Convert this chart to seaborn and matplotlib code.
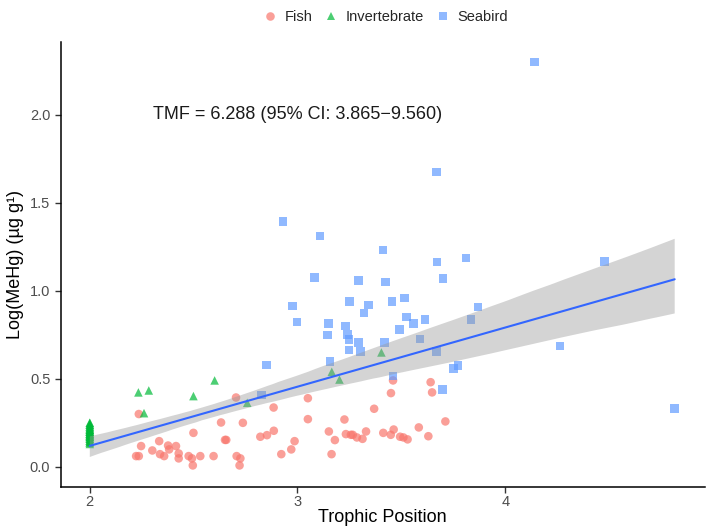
import pandas as pd
import matplotlib
matplotlib.use("Agg")
import matplotlib.pyplot as plt
import seaborn as sns

# values
fish_tp = [2.236, 2.704, 2.632, 2.737, 2.499, 2.651, 2.657, 2.334, 2.247, 2.377,
           2.415, 2.301, 2.382, 2.338, 2.358, 2.428, 2.428, 2.476, 2.492, 2.532,
           2.596, 2.223, 2.236, 2.496, 2.707, 2.725, 2.721, 2.885, 3.050, 3.050,
           2.886, 2.821, 2.853, 2.986, 2.970, 2.922, 3.151, 3.180, 3.164, 3.226,
           3.233, 3.257, 3.266, 3.286, 3.313, 3.330, 3.369, 3.450, 3.460, 3.413,
           3.449, 3.463, 3.494, 3.510, 3.530, 3.641, 3.648, 3.712, 3.584, 3.630]
fish_hg = [0.300, 0.394, 0.252, 0.250, 0.193, 0.153, 0.153, 0.146, 0.118, 0.121,
           0.118, 0.093, 0.099, 0.072, 0.061, 0.076, 0.048, 0.061, 0.048, 0.061,
           0.061, 0.061, 0.061, 0.008, 0.061, 0.048, 0.008, 0.337, 0.390, 0.271,
           0.205, 0.171, 0.180, 0.146, 0.099, 0.072, 0.201, 0.152, 0.072, 0.269,
           0.186, 0.182, 0.182, 0.167, 0.159, 0.201, 0.330, 0.419, 0.491, 0.193,
           0.182, 0.212, 0.171, 0.167, 0.156, 0.481, 0.423, 0.258, 0.224, 0.174]

# the stack at TP = 2 is dense, count is a guess
invert_tp = [2.0] * 30 + [2.234, 2.284, 2.601, 2.499, 2.261, 2.758, 3.165, 3.202, 3.404]
invert_hg = [0.13, 0.14, 0.14, 0.15, 0.15, 0.16, 0.16, 0.17, 0.17, 0.17,
             0.18, 0.18, 0.18, 0.19, 0.19, 0.19, 0.20, 0.20, 0.20, 0.21,
             0.21, 0.21, 0.22, 0.22, 0.23, 0.23, 0.24, 0.24, 0.25, 0.25,
             0.423, 0.434, 0.491, 0.402, 0.305, 0.364, 0.540, 0.496, 0.650]

bird_tp = [2.930, 3.109, 3.412, 3.672, 3.812, 3.083, 3.295, 3.425, 3.700, 2.975,
           3.250, 3.341, 3.454, 3.514, 3.870, 2.997, 3.321, 3.148, 3.231, 3.526,
           3.558, 3.614, 3.835, 3.144, 3.242, 3.249, 3.295, 3.490, 3.589, 3.249,
           3.303, 3.420, 3.670, 3.156, 3.460, 3.750, 3.773, 3.697, 2.850, 2.827,
           4.141, 4.478, 4.264, 4.816, 3.670]
bird_hg = [1.394, 1.311, 1.231, 1.163, 1.186, 1.076, 1.059, 1.051, 1.070, 0.913,
           0.940, 0.919, 0.938, 0.960, 0.909, 0.824, 0.875, 0.815, 0.800, 0.852,
           0.815, 0.837, 0.837, 0.748, 0.752, 0.724, 0.707, 0.779, 0.727, 0.665,
           0.657, 0.705, 0.657, 0.600, 0.515, 0.559, 0.576, 0.441, 0.578, 0.407,
           2.301, 1.167, 0.686, 0.330, 1.675]

groups = ["Fish", "Invertebrate", "Seabird"]
colors = {"Fish": "#F8766D", "Invertebrate": "#00BA38", "Seabird": "#619CFF"}
markers = {"Fish": "o", "Invertebrate": "^", "Seabird": "s"}
tmf_label = "TMF = 6.288 (95% CI: 3.865\u22129.560)"


def plot_tmf():
    # 1. Build table
    df = pd.DataFrame({
        "TP": fish_tp + invert_tp + bird_tp,
        "MeHg": fish_hg + invert_hg + bird_hg,
        "Group": ["Fish"] * len(fish_tp) + ["Invertebrate"] * len(invert_tp)
                 + ["Seabird"] * len(bird_tp),
    })

    # 2. Style
    sns.set_style("white")
    plt.rcParams["font.family"] = ["Liberation Sans", "DejaVu Sans"]

    fig = plt.figure(figsize=(7.06, 5.30), dpi=100)
    ax = fig.add_axes([0.086, 0.081, 0.912, 0.84])

    # 3. Points, then pooled regression with grey band
    sns.scatterplot(ax=ax, data=df, x="TP", y="MeHg", hue="Group", style="Group",
                    hue_order=groups, style_order=groups, palette=colors,
                    markers=markers, s=38, alpha=0.7, linewidth=0)
    handles, labels = ax.get_legend_handles_labels()
    ax.get_legend().remove()

    n_before = len(ax.collections)
    sns.regplot(ax=ax, data=df, x="TP", y="MeHg", scatter=False, ci=95,
                color="#3366FF", line_kws={"linewidth": 1.5, "zorder": 3})
    for coll in ax.collections[n_before:]:
        coll.set_facecolor("#999999")
        coll.set_alpha(0.42)
        coll.set_edgecolor("none")

    ax.text(3.0, 2.0, tmf_label, ha="center", va="center", fontsize=13, color="#1A1A1A")

    # 4. Axes
    ax.set_xlim(1.86, 4.96)
    ax.set_ylim(-0.115, 2.415)
    ax.set_xticks([2, 3, 4])
    ax.set_yticks([0.0, 0.5, 1.0, 1.5, 2.0])
    ax.set_yticklabels(["0.0", "0.5", "1.0", "1.5", "2.0"])
    ax.set_xlabel("Trophic Position", fontsize=13, color="black", labelpad=0)
    ax.set_ylabel("Log(MeHg) (\u00b5g g\u00b9)", fontsize=13, color="black")
    ax.tick_params(axis="both", direction="out", length=4, width=1, color="#333333",
                   labelsize=10.5, labelcolor="#4D4D4D", bottom=True, left=True)
    ax.tick_params(axis="x", pad=2)
    for side in ["top", "right"]:
        ax.spines[side].set_visible(False)
    for side in ["left", "bottom"]:
        ax.spines[side].set_color("black")
        ax.spines[side].set_linewidth(1.1)

    fig.legend(handles, labels, loc="upper center", bbox_to_anchor=(0.547, 1.005), ncol=3,
               frameon=False, fontsize=10.5, handlelength=0.8, handletextpad=0.6,
               columnspacing=0.9, markerscale=1.0)

    fig.savefig("out.png", dpi=100)


if __name__ == "__main__":
    plot_tmf()
